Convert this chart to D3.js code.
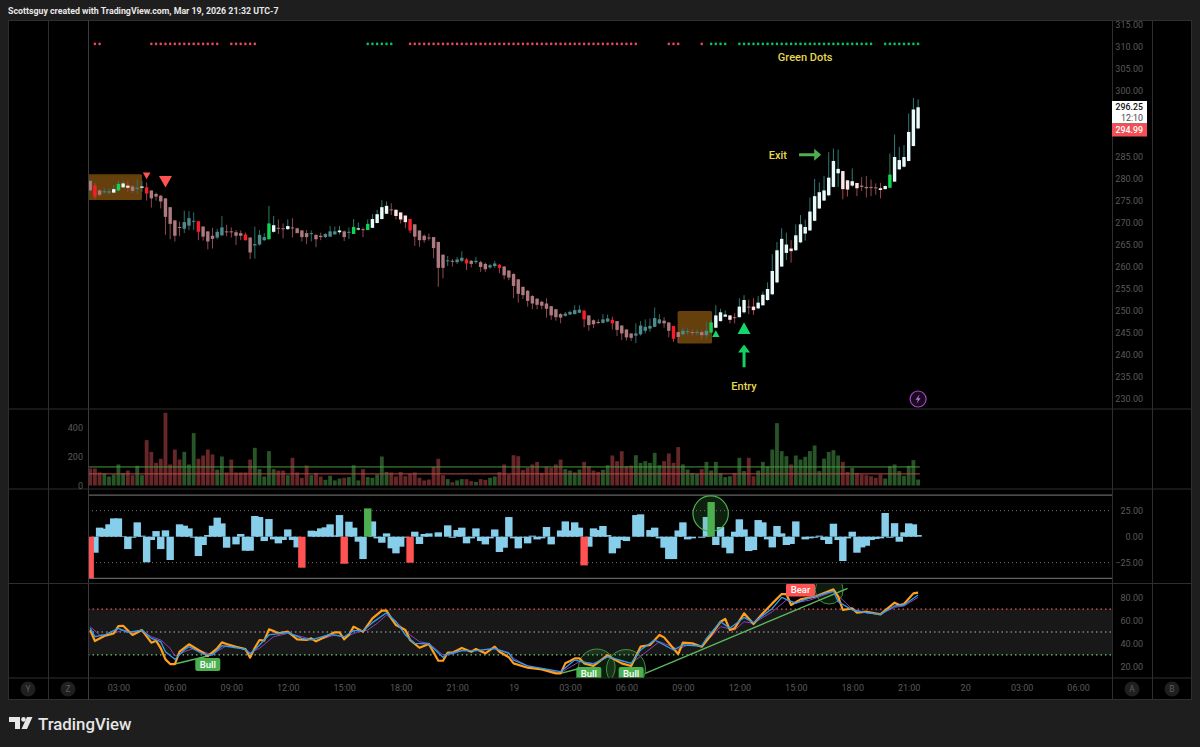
<!DOCTYPE html>
<html>
<head>
<meta charset="utf-8">
<script src="https://cdn.jsdelivr.net/npm/d3@7"></script>
<style>
  html, body { margin: 0; background: #1e1e1e; }
  svg { display: block; font-family: Roboto, sans-serif; }
  .tick text { fill: #5a5a5a; font-size: 9px; font-family: Roboto, sans-serif; }
</style>
</head>
<body>
<svg id="chart" width="1200" height="747"></svg>
<script>
// 15 minute bars
const candleHigh = [279.6,279.0,277.7,277.9,277.9,278.6,279.6,279.6,279.6,278.6,
  279.8,279.6,279.2,277.4,276.9,276.4,275.6,273.6,270.6,270.3,
  272.8,272.7,272.4,270.4,269.2,268.1,268.9,268.7,271.6,269.6,
  269.0,268.4,268.3,267.8,266.7,269.2,268.4,267.7,273.9,271.6,
  270.8,269.9,270.8,271.1,268.9,268.4,268.4,268.3,267.4,267.8,
  267.7,269.3,269.2,269.3,268.3,269.0,270.9,270.1,269.0,270.8,
  272.0,273.0,275.2,274.9,274.5,273.1,272.4,271.7,270.9,269.7,
  268.3,267.4,267.6,266.8,265.7,262.8,262.5,261.8,262.3,263.6,
  262.0,261.6,262.3,261.4,261.0,260.7,261.4,260.7,260.2,259.3,
  258.6,257.2,255.5,254.8,253.6,252.9,252.3,252.9,251.1,250.5,
  249.5,249.8,250.1,251.3,251.3,250.1,249.0,248.1,248.1,249.3,
  249.2,248.7,247.7,246.7,245.8,244.9,247.2,247.7,248.1,248.3,
  250.8,249.3,248.6,247.4,246.6,245.3,246.3,246.1,245.8,245.8,
  245.7,247.6,248.0,251.3,250.5,250.1,249.0,249.5,252.9,253.6,
  252.6,252.9,253.4,254.4,256.5,262.9,265.7,268.8,267.8,266.1,
  269.7,271.8,270.8,275.8,280.0,279.2,280.7,286.1,286.9,286.7,
  281.8,279.7,282.4,279.1,280.4,280.7,279.9,279.0,279.1,278.5,
  285.8,290.1,287.3,287.7,294.9,298.4,298.1];

const bodyTop = [279.6,278.5,277.4,277.2,277.2,277.7,278.9,279.0,278.5,278.3,
  278.0,278.3,278.1,277.4,276.6,276.2,275.6,273.6,270.6,269.1,
  270.2,271.1,270.5,270.4,269.2,268.1,267.1,268.0,269.0,268.1,
  268.1,267.9,267.7,267.4,266.7,265.2,267.3,266.8,269.9,269.5,
  268.9,268.8,269.3,269.0,268.8,268.3,267.7,267.7,267.3,267.1,
  267.5,268.1,268.1,268.3,268.1,268.0,269.1,268.8,268.6,269.8,
  270.9,272.0,273.6,273.9,273.1,273.0,272.4,271.7,270.9,269.7,
  268.3,267.1,266.7,266.8,265.7,262.8,261.5,261.4,261.7,262.1,
  261.7,261.4,261.4,261.1,260.7,260.4,260.8,260.5,260.1,259.2,
  258.4,257.2,255.5,254.6,253.4,252.8,252.1,251.7,251.1,250.4,
  249.3,249.4,249.8,250.2,250.3,250.1,249.0,247.9,247.5,248.1,
  248.3,248.0,247.7,246.7,245.8,244.9,244.9,246.7,246.4,246.6,
  248.4,248.1,247.8,247.4,246.6,245.2,245.5,245.4,245.2,245.2,
  245.2,245.5,247.4,249.0,249.7,249.2,249.0,248.6,251.0,252.5,
  251.0,251.0,251.9,253.7,255.0,259.1,263.8,266.4,265.1,264.2,
  267.2,269.7,269.1,272.6,276.1,277.0,277.4,280.3,284.1,282.3,
  281.8,279.7,279.5,279.1,278.5,278.2,278.2,278.1,277.9,278.4,
  281.0,285.0,284.3,285.0,290.7,295.8,296.3];

const bodyBottom = [277.4,276.0,276.4,277.0,276.9,276.9,277.4,278.1,278.0,277.3,
  277.9,278.0,276.7,275.6,276.0,274.9,271.4,269.8,267.1,268.9,
  268.7,269.4,270.3,268.0,266.9,265.8,266.4,266.7,267.2,268.0,
  267.9,267.1,267.1,266.1,263.3,264.9,265.1,266.1,266.3,268.0,
  268.7,268.6,268.6,268.9,267.7,266.8,266.8,267.5,266.3,266.8,
  266.8,266.9,267.4,267.9,266.8,267.9,267.5,268.5,268.4,268.4,
  268.9,270.0,270.9,272.1,273.0,271.6,270.8,270.2,268.3,266.9,
  266.1,266.1,266.5,264.3,259.8,259.8,261.3,261.2,261.1,261.4,
  260.8,260.7,261.1,260.0,259.5,259.9,260.2,259.8,258.1,257.6,
  255.7,253.9,253.6,252.3,251.7,251.4,251.2,250.5,249.0,248.6,
  248.5,248.9,249.2,249.3,249.6,248.1,246.8,247.0,247.3,247.3,
  247.6,247.2,245.7,244.9,244.0,243.9,244.4,244.7,245.5,246.0,
  246.4,247.2,247.2,245.5,243.7,244.1,244.7,245.2,245.0,245.1,
  244.5,244.5,245.1,246.2,247.7,248.7,248.0,248.5,248.6,249.7,
  250.9,250.2,250.6,251.3,252.5,253.8,256.5,260.1,263.2,263.6,
  263.8,265.6,267.6,268.3,270.5,273.3,275.1,276.3,278.2,281.3,
  277.7,277.6,278.5,277.9,278.2,277.9,278.0,277.9,277.5,277.7,
  278.0,279.4,282.2,282.8,284.1,287.5,291.5];

const candleLow = [277.4,275.4,276.0,276.6,276.4,276.8,277.2,278.0,277.1,276.8,
  276.6,277.1,275.1,273.5,275.1,273.3,267.3,266.3,265.8,267.0,
  267.7,268.4,268.4,266.1,266.0,264.0,264.2,266.3,267.0,267.0,
  266.7,265.0,266.1,266.0,261.8,261.9,264.9,265.9,266.3,267.8,
  267.5,266.5,268.4,266.7,267.7,265.8,265.2,265.8,264.5,266.1,
  266.6,266.8,267.4,267.4,265.9,266.4,267.5,268.3,266.8,268.4,
  268.8,269.9,270.8,272.0,271.8,270.8,269.9,268.8,267.7,264.8,
  264.6,265.5,266.0,262.0,255.5,257.4,260.2,260.1,260.7,261.1,
  259.3,259.9,260.7,258.9,258.9,259.6,259.8,258.6,257.2,257.0,
  252.9,251.9,252.7,251.0,250.4,250.4,250.4,248.5,248.0,247.8,
  247.2,248.7,249.1,249.2,249.5,246.3,245.5,246.1,247.0,247.2,
  247.4,245.8,244.3,243.4,243.3,243.2,242.7,244.4,244.9,245.3,
  246.3,247.0,246.2,244.0,243.0,242.7,244.5,244.5,244.4,244.4,
  243.6,243.6,244.9,246.1,247.6,248.6,247.2,247.2,248.5,249.4,
  249.3,249.1,250.4,251.2,252.3,253.6,256.3,260.0,261.6,261.0,
  263.7,265.4,266.0,268.2,270.4,273.2,275.0,276.1,278.1,278.2,
  275.4,276.0,278.2,276.1,277.3,275.8,276.1,276.4,275.6,277.6,
  277.9,279.4,282.0,282.6,284.0,287.4,291.3];

// p muted pink, t muted teal, r red, g green, w white, v white with a pink wick
const candleTone = ("prpttwgwvp" + "twrppppppp" + "tttrpppttp" + "ppprptttgw" + "ppwpppptpp" +
  "tttwptgwpg" + "wwwwpvvvrp" + "pppppptptt" + "rptppttrpp" + "pppppppppp" +
  "pttttrpppt" + "trpppptttt" + "ttpprpttpt" + "ptgwwwvpww" + "pvwwwwwwwv" +
  "wwwwwwwwww" + "vvwvppppvw" + "gwwwwww").split("");

const volume = [117,117,90,85,62,76,145,85,103,71,
  136,71,313,232,156,184,501,145,248,179,
  232,145,361,184,207,248,214,110,200,90,
  179,90,90,90,179,260,113,62,237,113,
  103,103,71,191,90,53,138,71,87,62,
  39,67,35,48,53,58,140,35,113,58,
  53,76,200,94,90,62,94,64,80,90,
  53,35,41,129,184,71,44,23,35,44,
  44,30,25,44,39,53,62,92,145,76,
  209,202,106,122,145,163,87,129,122,145,
  179,113,103,90,110,163,133,103,94,108,
  140,207,168,237,133,138,209,156,168,156,
  225,140,168,221,156,265,145,110,87,80,
  113,163,103,163,87,58,64,87,191,99,
  191,64,103,163,133,248,430,237,202,145,
  207,179,198,237,276,99,186,232,244,207,
  163,94,122,87,76,71,64,53,76,48,
  133,145,99,67,136,175,41];

const volumeTone = ("rrrgggggrr" + "ggrrrrrrrr" + "gggrrrrggr" + "rrrrrggggg" + "rrgrrrrgrr" +
  "ggggrgggrg" + "ggggrrrrrr" + "rrrrrrgrgg" + "rrgrrggrrr" + "rrrrrrrrrr" +
  "rggggrrrrg" + "grrrrrgggg" + "ggrrrrgggg" + "rggggggrgg" + "rrgggggggr" +
  "gggggggggg" + "rrgrrrrrrg" + "ggggggg").split("");

const volumeLevels = [128, 80];

const oscillator = [-40,-15.4,8.7,7.7,11.9,17.6,17.6,0.6,-11.9,-1,
  13.8,1,-24.6,-3.2,5.4,-11.9,6.1,-22.4,0,11.9,
  10.6,8,-1,-18.6,-8,1.6,10.6,18.3,12.8,-10.6,
  0,-7.4,2.6,-13.5,-13.5,19.9,18.9,-4.2,17,-2.6,
  -6.4,-3.2,7,-3.2,-10.3,-29.8,0,5.8,5.4,8,
  9,11.9,1.3,20.8,-26,14.4,8.7,-4.8,-21.5,27.2,
  14.7,-1.6,-5.8,3.2,-11.2,-16,-9.6,-1,-25,4.8,
  -7,2.6,3.2,0,4.2,0,10.9,-1,6.4,8.7,
  -6.4,-1.6,8,-4.2,-7.4,-1.6,7,-14.7,-10.6,18.9,
  -1.6,-11.2,-1,-6.4,1,-2.6,-1.6,9.3,-7.4,0,
  6,14.7,6,13.8,8.7,-27.6,-9.6,8,6.4,10.3,
  1.6,-16,-11.2,-3.2,-4.2,0,20.8,21.5,0,6.4,
  8.7,-1.6,-10.6,-21.5,-21.5,6,13.8,-2.6,-1.6,0,
  -1,19,33.3,-8,9.3,-10.6,-16,4.8,16.7,7,
  -13.8,-12.8,16,13.8,-2.6,-10.3,10.3,3.2,-8,-7,
  14.7,0,-2.6,-1.6,-1,1,-3.2,-7,12.5,-3.2,
  -23.4,-1.6,4.8,-15.4,-10.3,-8.7,-3.2,-2.2,-1.6,22.8,
  -1,13,-4.8,4.2,12.8,11.9,1.6];

// rsi panel, values read at the turning points of each line
const rsiBars = [0,1,3,5,6,7,9,11,13,14,15,16,17,18,19,21,23,24,25,27,28,29,31,33,34,35,36,37,38,39,40,42,44,46,47,48,50,52,53,54,55,56,58,60,62,63,64,65,67,68,70,72,74,75,76,77,79,81,82,84,86,87,89,
  90,93,96,99,100,101,102,103,104,105,107,110,111,113,115,117,119,121,122,125,126,128,130,132,134,135,136,137,139,141,143,145,147,148,149,151,154,158,159,160,162,163,165,168,171,172,173,175,176];
const rsiValues = [51.7,42.1,46.5,48.8,55.2,55.5,47.4,51.7,40.6,42.4,35.7,26,21.9,21.9,32.7,39.2,34.2,31.9,28.9,35.7,40.9,39.5,37.1,35.1,27.5,36.2,43,42.4,52.3,50.9,48.8,50.3,43.6,43,44.4,41.8,45.9,49.7,49.7,43.6,47.4,54.7,50.3,62,68.7,68.7,62,56.1,51.7,43,36.2,39.5,24.8,24.8,31.9,31.9,36,32.7,35.1,31.3,37.1,32.7,27.8,
  22.5,18.7,17.2,13.7,13.7,22.5,24.5,26.9,26.9,22.5,20.2,29.8,26.9,22.5,20.2,37.1,38.6,47.4,45.3,30.7,40.6,40,37.1,47.4,59,61.4,51.7,53.2,66.4,57,66.4,75.1,83.3,83.3,73.7,78.6,81,87.4,81,69.3,70.7,66.9,67.8,65.5,75.7,73.7,74.5,83.9,84.5];

const rsiFastBars = [0,1,3,6,8,11,13,15,16,18,20,21,24,26,28,31,33,34,36,38,42,45,47,51,54,56,58,60,63,65,67,69,72,75,76,79,82,86,89,
  90,93,100,103,107,110,115,117,120,124,126,130,131,134,136,139,141,145,147,150,152,158,159,162,165,168,171,173,176];
const rsiFastValues = [53.4,45.9,47.4,53.2,49.7,51.7,44.4,41.5,32.7,26,34.2,37.1,30.7,29.8,38,36.2,34.8,30.7,38.6,47.4,49.7,44.4,43,47.9,45.9,51.2,51.2,58.2,66.9,59,47.4,40,39.5,27.8,30.7,33.6,33.6,35.7,31.3,
  25.4,20.2,15.2,25.4,21.9,28.3,22.5,34.2,43,34.2,38.6,37.7,44.4,59,53.2,62.8,58.2,70.7,80.4,75.1,78.6,85.9,76.6,69.3,66.9,65.5,72.8,73.7,82.4];

const rsiSlowBars = [0,2,4,7,9,11,13,15,17,18,20,22,25,26,29,32,34,36,39,42,45,48,52,54,57,59,61,63,65,68,70,72,75,77,79,82,86,89,
  90,93,100,104,107,110,115,118,121,125,127,130,132,134,137,139,141,145,148,150,153,158,160,162,165,168,171,173,176];
const rsiSlowValues = [54.7,47.4,47.4,51.7,49.7,51.2,45.9,43,35.7,28.9,32.7,35.7,31.3,30.7,38,35.7,31.9,35.7,45.9,48.8,45.9,42.4,47.4,45.3,50.3,51.7,57.6,64.9,59,47.4,41.5,40,29.8,30.7,33.6,33.6,35.1,31.9,
  26.9,20.2,14.3,24,22.5,27.8,22.5,31.9,41.5,34.8,38.6,37.7,45.9,54.7,51.7,59,57.6,67.8,78,75.7,78,85.4,78,69.9,66.9,65.8,71.6,72.8,80.4];

const rsiLevels = [70, 50, 30];
const rsiLevelColors = ["#f0565c", "#b4b4b4", "#78c87c"];

// top row of dots: first bar, last bar, colour
const dotRunStart = [1,13,30,59,68,123,130,132,138,169];
const dotRunEnd = [2,27,35,64,116,125,130,135,166,176];
const dotRunColor = ["#e8485c","#e8485c","#e8485c","#00c864","#e8485c","#e8485c","#e8485c","#00c864","#00c864","#00c864"];

// 290 and 295 sit behind the last price labels
const priceTicks = [230,235,240,245,250,255,260,265,270,275,280,285,300,305,310,315];
const timeTickBars = [6,18,30,42,54,66,78,90,102,114,126,138,150,162,174,186,198,210];
const timeTickLabels = ["03:00","06:00","09:00","12:00","15:00","18:00","21:00","19","03:00","06:00","09:00","12:00","15:00","18:00","21:00","20","03:00","06:00"];

const toneBody = { p: "#ad7a80", t: "#4f8b8d", r: "#fa1c26", g: "#0ed452", w: "#e8fbfa", v: "#ffe6e6" };
const toneWick = { p: "#8c4a50", t: "#2c6f68", r: "#a8404a", g: "#2c7f5a", w: "#2f7c74", v: "#a8404a" };

const svg = d3.select("#chart");
const n = candleHigh.length;
const bars = d3.range(n);

const x = d3.scaleLinear().domain([0, 176]).range([90.2, 918.1]);
const priceY = d3.scaleLinear().domain([230, 315]).range([399, 25]);
const volumeY = d3.scaleLinear().domain([0, 400]).range([485.5, 427.5]);
const oscY = d3.scaleLinear().domain([-25, 25]).range([562.7, 510.7]);
const rsiY = d3.scaleLinear().domain([20, 80]).range([666.2, 597.8]);

const FRAME = { left: 8, right: 1192, top: 20, bottom: 700, plotLeft: 88, plotRight: 1112 };
const PANES = [[20, 409], [409, 489], [489, 583.5], [583.5, 678]];

svg.append("rect").attr("width", 1200).attr("height", 747).attr("fill", "#1e1e1e");
svg.append("rect")
  .attr("x", FRAME.left).attr("y", FRAME.top)
  .attr("width", FRAME.right - FRAME.left).attr("height", FRAME.bottom - FRAME.top)
  .attr("fill", "#000");

const defs = svg.append("defs");
PANES.forEach((p, k) => {
  defs.append("clipPath").attr("id", "pane" + k).append("rect")
    .attr("x", FRAME.plotLeft).attr("y", p[0])
    .attr("width", FRAME.plotRight - FRAME.plotLeft).attr("height", p[1] - p[0]);
});

// ---------- price pane ----------
const price = svg.append("g").attr("clip-path", "url(#pane0)");

// consolidation boxes
const boxStart = [-0.5, 125.3], boxEnd = [11, 132.2], boxHigh = [281.1, 250], boxLow = [275.2, 242.6];
price.selectAll("rect.box").data(boxStart).join("rect").attr("class", "box")
  .attr("x", (d, i) => x(d) - 2)
  .attr("width", (d, i) => x(boxEnd[i]) - x(d) + 2)
  .attr("y", (d, i) => priceY(boxHigh[i]))
  .attr("height", (d, i) => priceY(boxLow[i]) - priceY(boxHigh[i]))
  .attr("rx", 1.5)
  .attr("fill", "#66400c");

price.selectAll("line.wick").data(bars).join("line").attr("class", "wick")
  .attr("x1", i => x(i)).attr("x2", i => x(i))
  .attr("y1", i => priceY(candleHigh[i])).attr("y2", i => priceY(candleLow[i]))
  .attr("stroke", i => toneWick[candleTone[i]]).attr("stroke-width", 1);

price.selectAll("rect.body").data(bars).join("rect").attr("class", "body")
  .attr("x", i => x(i) - 1.7).attr("width", 3.4)
  .attr("y", i => priceY(bodyTop[i]))
  .attr("height", i => Math.max(1, priceY(bodyBottom[i]) - priceY(bodyTop[i])))
  .attr("fill", i => toneBody[candleTone[i]]);

// dots along the top
dotRunStart.forEach((s, k) => {
  price.append("g").selectAll("circle").data(d3.range(s, dotRunEnd[k] + 1)).join("circle")
    .attr("cx", i => x(i)).attr("cy", priceY(310.7)).attr("r", 1.3)
    .attr("fill", dotRunColor[k]);
});

// signal triangles
const triBars = [12, 16, 133, 139], triPrice = [281.5, 280.7, 244.1, 244.8], triSize = [3.8, 6.5, 3.7, 6.5];
const triUp = [false, false, true, true];
price.selectAll("path.tri").data(triBars).join("path").attr("class", "tri")
  .attr("d", (d, i) => {
    const cx = x(d), cy = priceY(triPrice[i]), s = triSize[i], dir = triUp[i] ? -1 : 1;
    return d3.line()([[cx - s, cy], [cx + s, cy], [cx, cy + dir * s * 1.8]]) + "Z";
  })
  .attr("fill", (d, i) => triUp[i] ? "#14d66c" : "#ff5252");

// Entry / Exit arrows
const arrowG = price.append("g");
arrowG.append("path")
  .attr("d", () => {
    const cx = x(139), t = priceY(242.4), b = priceY(237.2);
    return d3.line()([[cx - 1.5, b], [cx - 1.5, t + 8], [cx - 6, t + 8], [cx, t], [cx + 6, t + 8], [cx + 1.5, t + 8], [cx + 1.5, b]]) + "Z";
  })
  .attr("fill", "#14cf66");
arrowG.append("path")
  .attr("d", () => {
    const cy = priceY(285.5), l = x(150.7), r = x(155.4);
    return d3.line()([[l, cy - 1.5], [r - 7, cy - 1.5], [r - 7, cy - 6], [r, cy], [r - 7, cy + 6], [r - 7, cy + 1.5], [l, cy + 1.5]]) + "Z";
  })
  .attr("fill", "#4caf50");

const noteText = ["Entry", "Exit", "Green Dots"], noteBar = [139, 146.2, 152], notePrice = [233, 285.5, 307.7];
price.selectAll("text.note").data(noteText).join("text").attr("class", "note")
  .attr("x", (d, i) => x(noteBar[i])).attr("y", (d, i) => priceY(notePrice[i]))
  .attr("dy", "0.35em").attr("text-anchor", "middle")
  .attr("fill", "#e6d84e").attr("font-size", 11).attr("font-weight", 500)
  .text(d => d);

// lightning badge
const bolt = svg.append("g").attr("transform", `translate(${x(176)},${priceY(230)})`);
bolt.append("circle").attr("r", 8).attr("fill", "#1a0c20").attr("stroke", "#a346c4").attr("stroke-width", 1.2);
bolt.append("path").attr("d", "M1.5,-4.5 L-2.5,0.8 L-0.2,0.8 L-1.5,4.5 L2.5,-0.8 L0.2,-0.8 Z").attr("fill", "#c46be0");

// ---------- volume pane ----------
const vol = svg.append("g").attr("clip-path", "url(#pane1)");
vol.selectAll("rect").data(bars).join("rect")
  .attr("x", i => x(i) - 1.9).attr("width", 3.8)
  .attr("y", i => volumeY(volume[i]))
  .attr("height", i => volumeY(0) - volumeY(volume[i]))
  .attr("fill", i => volumeTone[i] === "r" ? "#672729" : "#285528");
vol.selectAll("line").data(volumeLevels).join("line")
  .attr("x1", FRAME.plotLeft).attr("x2", x(176) + 1.7)
  .attr("y1", d => volumeY(d)).attr("y2", d => volumeY(d))
  .attr("stroke", (d, i) => i === 0 ? "#4c9a3e" : "#bb4a4c").attr("stroke-width", 1);

// ---------- oscillator pane ----------
const osc = svg.append("g").attr("clip-path", "url(#pane2)");
[40, -40].forEach(v => {
  osc.append("line").attr("x1", FRAME.plotLeft).attr("x2", FRAME.plotRight)
    .attr("y1", oscY(v)).attr("y2", oscY(v)).attr("stroke", "#7c7c7c");
});
[25, -25].forEach(v => {
  osc.append("line").attr("x1", FRAME.plotLeft).attr("x2", FRAME.plotRight)
    .attr("y1", oscY(v)).attr("y2", oscY(v))
    .attr("stroke", "#777").attr("stroke-dasharray", "1 3");
});
const oscColor = v => v >= 25 ? "#4caf50" : v <= -25 ? "#ff5252" : "#87ceeb";
const oscOrder = bars.slice().sort((a, b) => (Math.abs(oscillator[a]) >= 25) - (Math.abs(oscillator[b]) >= 25) || a - b);
osc.selectAll("rect").data(oscOrder).join("rect")
  .attr("x", i => x(i) - 3.7).attr("width", 7.4)
  .attr("y", i => oscY(Math.max(0, oscillator[i])))
  .attr("height", i => Math.abs(oscY(oscillator[i]) - oscY(0)))
  .attr("fill", i => oscColor(oscillator[i]));
osc.append("circle").attr("cx", x(131.9)).attr("cy", oscY(22.2)).attr("r", 17.7)
  .attr("fill", "rgba(76,175,80,0.18)").attr("stroke", "#4caf50").attr("stroke-width", 1.2);

// ---------- rsi pane ----------
const rsi = svg.append("g").attr("clip-path", "url(#pane3)");
rsi.append("rect").attr("x", FRAME.plotLeft).attr("width", FRAME.plotRight - FRAME.plotLeft)
  .attr("y", rsiY(70)).attr("height", rsiY(30) - rsiY(70)).attr("fill", "#181818");
rsi.selectAll("line.level").data(rsiLevels).join("line").attr("class", "level")
  .attr("x1", FRAME.plotLeft).attr("x2", FRAME.plotRight)
  .attr("y1", d => rsiY(d)).attr("y2", d => rsiY(d))
  .attr("stroke", (d, i) => rsiLevelColors[i]).attr("stroke-width", 1.2).attr("stroke-dasharray", "1.5 3");

const circleBar = [107.7, 113.9, 157.1], circleValue = [19, 17.5, 86.8], circleRadius = [18.3, 19.5, 14];
rsi.selectAll("circle").data(circleBar).join("circle")
  .attr("cx", d => x(d)).attr("cy", (d, i) => rsiY(circleValue[i])).attr("r", (d, i) => circleRadius[i])
  .attr("fill", "rgba(76,175,80,0.16)").attr("stroke", "#4caf50").attr("stroke-opacity", 0.8);

const rsiLine = d3.line().x(d => x(d[0])).y(d => rsiY(d[1]));
const trendFrom = [[18, 21.9], [100, 13.7], [118, 13.7]], trendTo = [[25, 28.9], [104, 18], [161, 88.3]];
rsi.selectAll("path.trend").data(trendFrom).join("path").attr("class", "trend")
  .attr("d", (d, i) => rsiLine([d, trendTo[i]]))
  .attr("stroke", "#5cb85c").attr("stroke-width", 1.4).attr("fill", "none");

const lineSets = [
  [rsiSlowBars, rsiSlowValues, "#8e3fb0", 1],
  [rsiBars, rsiValues, "#ff9f1a", 2.2],
  [rsiFastBars, rsiFastValues, "#2f9cf0", 1.3],
];
lineSets.forEach(s => {
  rsi.append("path")
    .attr("d", rsiLine(s[0].map((b, i) => [b, s[1][i]])))
    .attr("fill", "none").attr("stroke", s[2]).attr("stroke-width", s[3])
    .attr("stroke-linejoin", "round");
});

const labelText = ["Bull", "Bull", "Bull", "Bear"], labelBar = [25, 106, 115, 151], labelValue = [21.5, 13.6, 13.6, 86.8];
const labelGroup = rsi.selectAll("g.tag").data(labelText).join("g").attr("class", "tag")
  .attr("transform", (d, i) => `translate(${x(labelBar[i])},${rsiY(labelValue[i])})`);
labelGroup.append("rect")
  .attr("x", d => d === "Bear" ? -14.5 : -12.5).attr("y", -6.5)
  .attr("width", d => d === "Bear" ? 29 : 25).attr("height", 13).attr("rx", 2)
  .attr("fill", d => d === "Bear" ? "#ff5252" : "#4caf50");
labelGroup.append("text").attr("dy", "0.35em").attr("text-anchor", "middle")
  .attr("fill", "#fff").attr("font-size", 9.5).attr("font-weight", 500)
  .text(d => d);

// ---------- frame ----------
const frameColor = "#2f2f2f";
const frame = svg.append("g").attr("stroke", frameColor).attr("fill", "none");
frame.append("rect").attr("x", FRAME.left + 0.5).attr("y", FRAME.top + 0.5)
  .attr("width", FRAME.right - FRAME.left - 1).attr("height", FRAME.bottom - FRAME.top - 1);
[48, 88, 1112, 1152].forEach(v => {
  frame.append("line").attr("x1", v + 0.5).attr("x2", v + 0.5).attr("y1", FRAME.top).attr("y2", FRAME.bottom)
    .attr("stroke", v === 88 ? "#3a3a40" : frameColor);
});
[409, 489, 583.5, 678].forEach(v => {
  frame.append("line").attr("x1", FRAME.left).attr("x2", FRAME.right).attr("y1", v).attr("y2", v);
});

// ---------- axes ----------
function plainAxis(g) {
  g.select(".domain").remove();
  g.selectAll(".tick line").remove();
}
const rightX = 1143;
svg.append("g").attr("transform", `translate(${rightX},0)`)
  .call(d3.axisLeft(priceY).tickValues(priceTicks).tickSize(0).tickPadding(0).tickFormat(d3.format(".2f")))
  .call(plainAxis);
svg.append("g").attr("transform", `translate(${rightX},0)`)
  .call(d3.axisLeft(oscY).tickValues([25, 0, -25]).tickSize(0).tickPadding(0).tickFormat(d3.format(".2f")))
  .call(plainAxis);
svg.append("g").attr("transform", `translate(${rightX},0)`)
  .call(d3.axisLeft(rsiY).tickValues([80, 60, 40, 20]).tickSize(0).tickPadding(0).tickFormat(d3.format(".2f")))
  .call(plainAxis);
svg.append("g").attr("transform", "translate(83,0)")
  .call(d3.axisLeft(volumeY).tickValues([0, 200, 400]).tickSize(0).tickPadding(0))
  .call(plainAxis);

const timeLabelOf = d3.scaleOrdinal().domain(timeTickBars).range(timeTickLabels);
svg.append("g").attr("transform", "translate(0,685)")
  .call(d3.axisBottom(x).tickValues(timeTickBars).tickSize(0).tickPadding(0).tickFormat(d => timeLabelOf(d)))
  .call(plainAxis);

// round axis buttons
const buttonLetter = ["Y", "Z", "A", "B"], buttonX = [28, 68, 1132, 1172];
const buttons = svg.selectAll("g.btn").data(buttonLetter).join("g").attr("class", "btn")
  .attr("transform", (d, i) => `translate(${buttonX[i]},689)`);
buttons.append("circle").attr("r", 7.5).attr("fill", "#1f1f1f");
buttons.append("text").attr("dy", "0.35em").attr("text-anchor", "middle")
  .attr("fill", "#5c5c5c").attr("font-size", 8.5).text(d => d);

// ---------- last price labels ----------
const lastPrice = svg.append("g");
lastPrice.append("rect").attr("x", 1112).attr("y", 101).attr("width", 35).attr("height", 22.5).attr("fill", "#fff");
lastPrice.append("rect").attr("x", 1112).attr("y", 123.5).attr("width", 35).attr("height", 13).attr("fill", "#f25056");
const lastText = ["296.25", "12:10", "294.99"], lastY = [107, 118, 130], lastFill = ["#111", "#444", "#fff"];
lastPrice.selectAll("text").data(lastText).join("text")
  .attr("x", 1143).attr("y", (d, i) => lastY[i]).attr("dy", "0.35em")
  .attr("text-anchor", "end").attr("font-size", 8.8).attr("font-weight", (d, i) => i === 1 ? 400 : 500)
  .attr("fill", (d, i) => lastFill[i]).text(d => d);

// ---------- header and footer ----------
svg.append("text").attr("x", 8).attr("y", 14)
  .attr("fill", "#e8e8e8").attr("font-size", 8.8).attr("font-weight", 700)
  .text("Scottsguy created with TradingView.com, Mar 19, 2026 21:32 UTC-7");

const logo = svg.append("g").attr("fill", "#e6e6e6");
logo.append("path").attr("d", "M9,717H20V729H15V722H9Z");
logo.append("circle").attr("cx", 23.5).attr("cy", 719.4).attr("r", 2.3);
logo.append("path").attr("d", "M27,717H32.5L27,729H21.5Z");
svg.append("text").attr("x", 38).attr("y", 730)
  .attr("fill", "#e6e6e6").attr("font-size", 16.8).attr("font-weight", 500)
  .text("TradingView");
</script>
</body>
</html>
